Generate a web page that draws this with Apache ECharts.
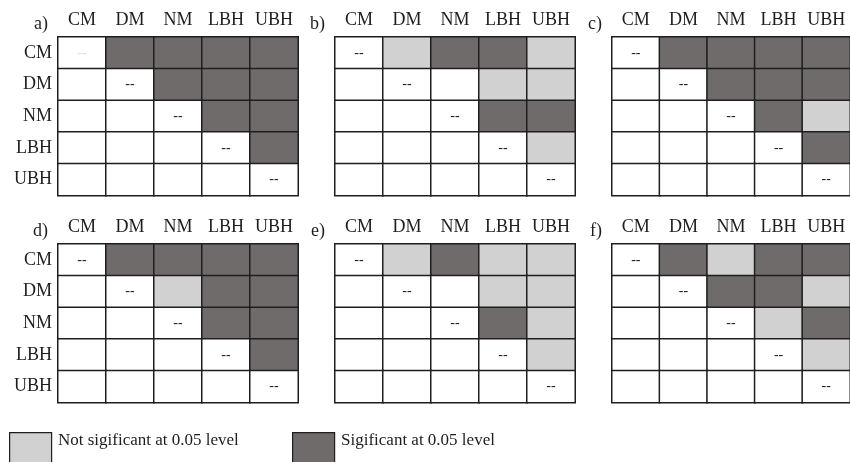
<!DOCTYPE html>
<html>
<head>
<meta charset="utf-8">
<script src="https://cdn.jsdelivr.net/npm/echarts@6/dist/echarts.min.js"></script>
<style>
  html, body { margin: 0; padding: 0; background: #fff; }
  #container { width: 850px; height: 462px; }
</style>
</head>
<body>
<div id="container"></div>
<script>
// categories of the pairwise comparison
const categories = ['CM', 'DM', 'NM', 'LBH', 'UBH'];
const panelNames = ['a)', 'b)', 'c)', 'd)', 'e)', 'f)'];

// -1 = diagonal (--), 0 = blank, 1 = not significant, 2 = significant
const panelA = [
    [-1, 2, 2, 2, 2],
    [0, -1, 2, 2, 2],
    [0, 0, -1, 2, 2],
    [0, 0, 0, -1, 2],
    [0, 0, 0, 0, -1],
];
const panelB = [
    [-1, 1, 2, 2, 1],
    [0, -1, 0, 1, 1],
    [0, 0, -1, 2, 2],
    [0, 0, 0, -1, 1],
    [0, 0, 0, 0, -1],
];
const panelC = [
    [-1, 2, 2, 2, 2],
    [0, -1, 2, 2, 2],
    [0, 0, -1, 2, 1],
    [0, 0, 0, -1, 2],
    [0, 0, 0, 0, -1],
];
const panelD = [
    [-1, 2, 2, 2, 2],
    [0, -1, 1, 2, 2],
    [0, 0, -1, 2, 2],
    [0, 0, 0, -1, 2],
    [0, 0, 0, 0, -1],
];
const panelE = [
    [-1, 1, 2, 1, 1],
    [0, -1, 0, 1, 1],
    [0, 0, -1, 2, 1],
    [0, 0, 0, -1, 1],
    [0, 0, 0, 0, -1],
];
const panelF = [
    [-1, 2, 1, 2, 2],
    [0, -1, 2, 2, 1],
    [0, 0, -1, 1, 2],
    [0, 0, 0, -1, 1],
    [0, 0, 0, 0, -1],
];
const panels = [panelA, panelB, panelC, panelD, panelE, panelF];

const legendLabels = ['Not sigificant at 0.05 level', 'Sigificant at 0.05 level'];

const FONT = '"Liberation Serif", "DejaVu Serif", serif';
const LIGHT = '#d1d1d1';
const DARK = '#6f6b6b';
const INK = '#1e1e1e';

// panel placement (left, top) in px
const lefts = [58, 335, 612];
const tops = [37, 244];
const cellW = 48;
const cellH = 31.7;

const chart = echarts.init(document.getElementById('container'));

const grids = [], xAxes = [], yAxes = [], series = [], titles = [];

panels.forEach((m, i) => {
    const col = i % 3, row = Math.floor(i / 3);
    grids.push({
        left: lefts[col], top: tops[row],
        width: cellW * 5, height: cellH * 5,
    });
    xAxes.push({
        type: 'category', gridIndex: i, data: categories, position: 'top',
        axisLine: { show: false }, axisTick: { show: false }, splitLine: { show: false },
        axisLabel: { interval: 0, hideOverlap: false, margin: 8, fontFamily: FONT, fontSize: 18, color: INK },
    });
    yAxes.push({
        type: 'category', gridIndex: i, data: categories, inverse: true,
        axisLine: { show: false }, axisTick: { show: false }, splitLine: { show: false },
        axisLabel: { show: col === 0, interval: 0, margin: 6, fontFamily: FONT, fontSize: 18, color: INK },
    });
    const data = [];
    m.forEach((r, y) => r.forEach((v, x) => {
        const item = { value: [x, y, v] };
        // the first diagonal mark of panel a is printed very faint
        if (i === 0 && x === 0 && y === 0) item.label = { color: '#dddddd' };
        data.push(item);
    }));
    series.push({
        type: 'heatmap', xAxisIndex: i, yAxisIndex: i, data,
        itemStyle: { borderColor: INK, borderWidth: 1.5 },
        label: {
            show: true, fontFamily: FONT, fontSize: 14, color: INK,
            formatter: p => (p.value[2] === -1 ? '--' : ''),
        },
        emphasis: { disabled: true },
    });
    titles.push({
        text: panelNames[i],
        right: 850 - lefts[col] + 5,
        top: tops[row] - 27,
        textStyle: { fontFamily: FONT, fontSize: 18, fontWeight: 'normal', color: INK },
    });
});

const legendItems = [
    { x: 9, color: LIGHT, text: legendLabels[0] },
    { x: 292, color: DARK, text: legendLabels[1] },
];
const graphic = [];
legendItems.forEach(it => {
    graphic.push({
        type: 'rect', left: it.x, top: 432,
        shape: { width: 42, height: 32 },
        style: { fill: it.color, stroke: INK, lineWidth: 1.2 },
    });
    graphic.push({
        type: 'text', left: it.x + 49, top: 432,
        style: { text: it.text, font: '17px ' + FONT, fill: INK },
    });
});

chart.setOption({
    animation: false,
    title: titles,
    grid: grids,
    xAxis: xAxes,
    yAxis: yAxes,
    visualMap: {
        type: 'piecewise', show: false, dimension: 2,
        pieces: [
            { value: -1, color: '#ffffff' },
            { value: 0, color: '#ffffff' },
            { value: 1, color: LIGHT },
            { value: 2, color: DARK },
        ],
    },
    series,
    graphic,
});
</script>
</body>
</html>
